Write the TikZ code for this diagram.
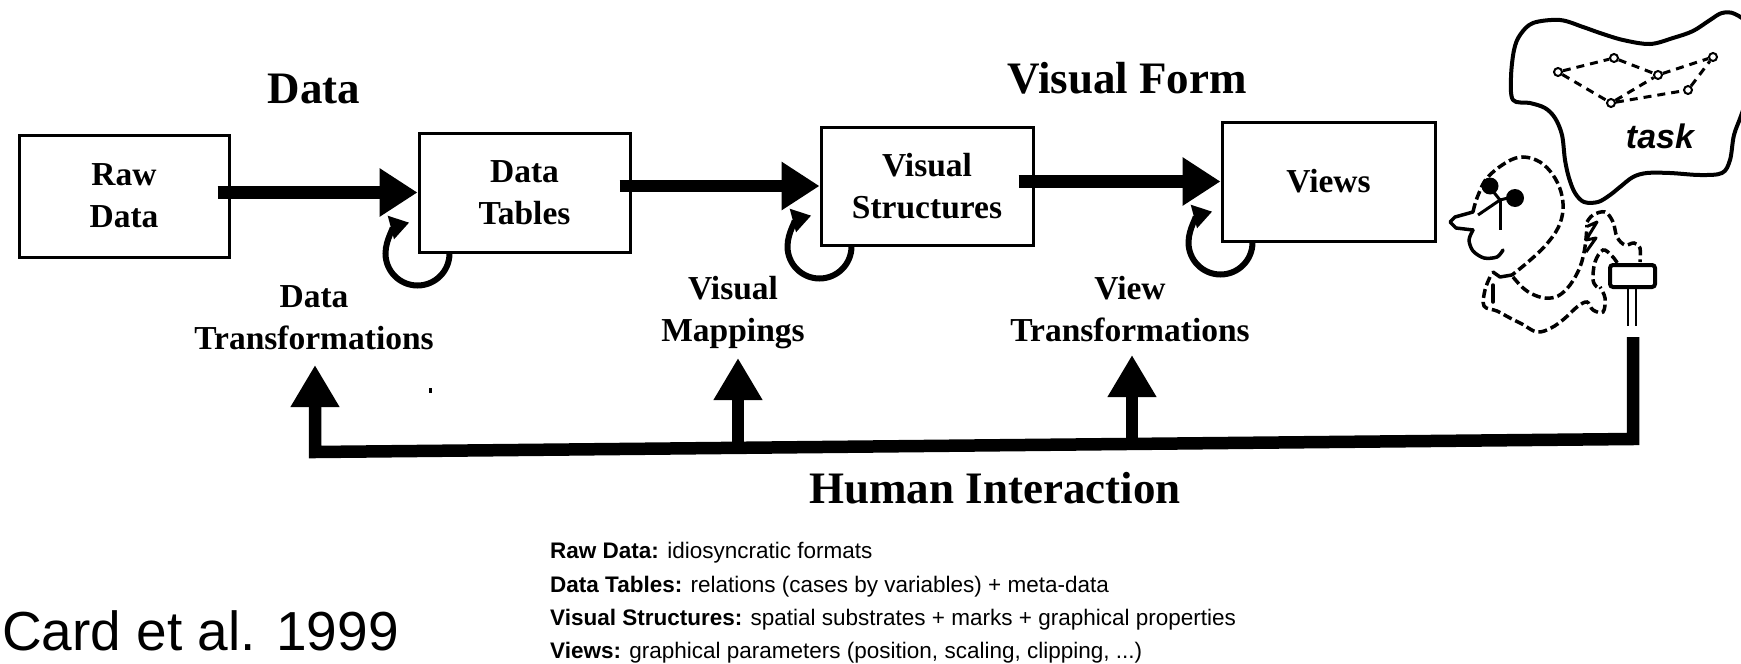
\documentclass[tikz,border=0pt]{standalone}
\usepackage{fontspec}
\setmainfont{Liberation Serif}
\setsansfont{Liberation Sans}
\usetikzlibrary{arrows.meta,calc}
\begin{document}
\begin{tikzpicture}[x=1pt,y=-1pt,
  box/.style={draw, line width=3pt, inner sep=0pt, align=center,
    font=\bfseries\fontsize{33.5}{42}\selectfont},
  lbl/.style={inner sep=0pt, align=center, font=\bfseries\fontsize{33.5}{42}\selectfont},
  ttl/.style={inner sep=0pt, anchor=base, font=\bfseries\fontsize{45}{50}\selectfont},
  leg/.style={inner sep=0pt, anchor=base west, font=\sffamily\fontsize{22.5}{27}\selectfont},
  mainarrow/.style={line width=12.5pt, -{Triangle[length=38pt,width=46pt]}},
  uparrow/.style={line width=12.5pt, line join=miter, -{Triangle[length=42pt,width=46pt]}},
  looparrow/.style={line width=6pt, -{Triangle[length=19pt,width=23pt]}},
  cloudline/.style={line width=4pt, line join=round},
  netline/.style={line width=3pt, dash pattern=on 8pt off 6pt},
  netnode/.style={circle, draw, line width=2pt, fill=white, minimum size=8pt, inner sep=0pt},
  figline/.style={line width=3.5pt, dash pattern=on 9pt off 4pt, line cap=butt},
  solidfig/.style={line width=3.5pt, line join=round, line cap=round}
]
\useasboundingbox (0,0) rectangle (1741,664);
\fill[white] (0,0) rectangle (1741,664);

% titles
\node[ttl] (datatitle) at (314,103) {Data};
\node[ttl] (vftitle) at (1127,93) {Visual Form};
\node[ttl] (hititle) at (995,503) {Human Interaction};

% boxes
\node[box, minimum width=210pt, minimum height=122pt] (rawdata) at (124,196) {Raw\\Data};
\node[box, minimum width=211pt, minimum height=119pt] (tables) at (524.5,192.5) {Data\\Tables};
\node[box, minimum width=212pt, minimum height=118pt] (structures) at (927,186) {Visual\\Structures};
\node[box, minimum width=213pt, minimum height=119pt] (views) at (1328.5,181.5) {Views};

% main arrows
\draw[mainarrow] ($(rawdata.east |- tables.west)+(-13,0)$) -- (tables.west);
\draw[mainarrow] ($(tables.east |- structures.west)+(-12,0)$) -- (structures.west);
\draw[mainarrow] ($(structures.east |- views.west)+(-16,0)$) -- (views.west);

% loops
\draw[looparrow] (tables.south west) ++(32,0) arc[start angle=0,end angle=255,radius=32];
\draw[looparrow] (structures.south west) ++(32,0) arc[start angle=0,end angle=255,radius=32];
\draw[looparrow] (views.south west) ++(32,0) arc[start angle=0,end angle=255,radius=32];

% labels
\node[lbl] (dtlabel) at (314,318) {Data\\Transformations};
\node[lbl] (vmlabel) at (733,313) {Visual\\Mappings};
\node[lbl] (vtlabel) at (1130,309) {View\\Transformations};

% feedback
\coordinate (hand) at (1633,337);
\coordinate (fbR) at (1633,439);
\coordinate (fbL) at (315,452);
\coordinate (t1) at (315,365);
\coordinate (b2) at (738,448);
\coordinate (t2) at (738,358);
\coordinate (b3) at (1132,444);
\coordinate (t3) at (1132,355);
\draw[uparrow] (hand) -- (fbR) -- (fbL) -- (t1);
\draw[uparrow] (b2) -- (t2);
\draw[uparrow] (b3) -- (t3);
\fill (428.5,388) rectangle (431.5,393);

% legend
\node[leg] (leg1) at (550,558) {\textbf{Raw Data:} idiosyncratic formats};
\node[leg] (leg2) at (550,592) {\textbf{Data Tables:} relations (cases by variables) + meta-data};
\node[leg] (leg3) at (550,625) {\textbf{Visual Structures:} spatial substrates + marks + graphical properties};
\node[leg] (leg4) at (550,658) {\textbf{Views:} graphical parameters (position, scaling, clipping, ...)};

\node[inner sep=0pt, anchor=base west, font=\sffamily\fontsize{55}{60}\selectfont] (card) at (2,650) {Card et al. 1999};

% thought cloud
\draw[cloudline] plot[smooth cycle, tension=0.55] coordinates {
 (1533,23) (1560,20) (1583,27) (1600,33) (1623,40) (1650,44) (1673,38) (1693,31)
 (1710,20) (1722,13) (1735,14) (1750,28) (1756,70) (1742,113) (1734,135) (1730,160)
 (1722,173) (1700,175) (1670,173) (1647,173) (1633,177) (1620,187) (1610,195)
 (1598,202) (1584,202) (1575,193) (1569,178) (1565,160) (1562,135) (1555,118)
 (1545,108) (1530,103) (1513,100) (1511,77) (1514,50) (1520,35)};
\node[netnode] (nL) at (1558,72) {};
\node[netnode] (nT) at (1614,58) {};
\node[netnode] (nC) at (1658,75) {};
\node[netnode] (nR1) at (1713,57) {};
\node[netnode] (nB) at (1611,103) {};
\node[netnode] (nR2) at (1688,90) {};
\draw[netline] (nL) -- (nT); \draw[netline] (nT) -- (nC); \draw[netline] (nC) -- (nR1);
\draw[netline] (nL) -- (nB); \draw[netline] (nB) -- (nC);
\draw[netline] (nB) -- (nR2); \draw[netline] (nR2) -- (nR1);
\node[inner sep=0pt, anchor=base, font=\sffamily\bfseries\itshape\fontsize{34}{40}\selectfont] (task) at (1660,148) {task};

% character
\draw[figline] plot[smooth, tension=0.6] coordinates {(1473,212) (1477,198) (1487,178) (1507,162) (1523,157) (1540,162) (1553,175) (1561,192) (1563,210) (1558,228) (1545,246) (1528,262) (1512,275)};
\draw[solidfig] (1473,212) -- (1455,217) -- (1450,222) -- (1456,228) -- (1473,230);
\draw[solidfig] plot[smooth] coordinates {(1473,230) (1469,240) (1473,251) (1484,258) (1497,257) (1503,250)};
\fill (1490,186) circle (8.5);
\fill (1515,198) circle (9);
\draw[line width=3pt] (1492,190) -- (1500,200) -- (1512,197);
\draw[line width=3pt] (1500,200) -- (1478,215);
\draw[line width=3pt] (1500,200) -- (1500,230);
\draw[solidfig] (1493,272) -- (1500,277) -- (1512,275);
\draw[solidfig] (1493,285) -- (1493,302);
\draw[figline] plot[smooth, tension=0.6] coordinates {(1490,277) (1485,290) (1484,306) (1497,311) (1510,318) (1522,324) (1537,332) (1551,328) (1564,319) (1577,307) (1587,302) (1593,310) (1603,312) (1605,298) (1600,287)};
\draw[figline] plot[smooth, tension=0.6] coordinates {(1513,277) (1522,287) (1532,294) (1545,298) (1558,296) (1570,285) (1580,267) (1585,247) (1587,225)};
\draw[figline] plot[smooth, tension=0.6] coordinates {(1587,222) (1593,215) (1605,212) (1613,222) (1617,237) (1625,245) (1634,243) (1640,248) (1640,262)};
\draw[figline] plot[smooth, tension=0.6] coordinates {(1597,287) (1593,280) (1595,262) (1603,250) (1612,256) (1618,264)};
\draw[line width=3pt, line join=round] (1588,226) -- (1597,222) -- (1586,240) -- (1596,238) -- (1586,252);
\draw[line width=4pt, rounded corners=3pt] (1610,265) rectangle (1655,287);
\draw[line width=2.5pt] (1628,288) -- (1628,326);
\draw[line width=2.5pt] (1636,288) -- (1636,326);
\end{tikzpicture}
\end{document}
